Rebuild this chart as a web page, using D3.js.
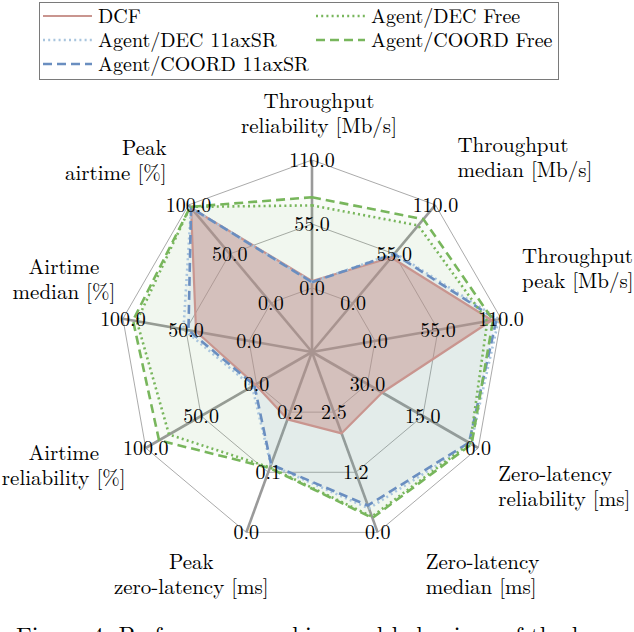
<!DOCTYPE html>
<html><head><meta charset="utf-8">
<script src="https://cdn.jsdelivr.net/npm/d3@7"></script>
<style>
body{margin:0;background:#fff;overflow:hidden}
svg{display:block}
</style>
</head><body>
<svg id="c" width="634" height="632"></svg>
<script>
// ---------- data ----------
const axisTitles = [
  ["Throughput","reliability [Mb/s]"],
  ["Throughput","median [Mb/s]"],
  ["Throughput","peak [Mb/s]"],
  ["Zero-latency","reliability [ms]"],
  ["Zero-latency","median [ms]"],
  ["Peak","zero-latency [ms]"],
  ["Airtime","reliability [%]"],
  ["Airtime","median [%]"],
  ["Peak","airtime [%]"]
];
const axisTicks = [
  [0,55,110],[0,55,110],[0,55,110],
  [30,15,0],[2.5,1.25,0],[0.2,0.1,0],
  [0,50,100],[0,50,100],[0,50,100]
];
const tickLabels = [
  ["0.0","55.0","110.0"],["0.0","55.0","110.0"],["0.0","55.0","110.0"],
  ["30.0","15.0","0.0"],["2.5","1.2","0.0"],["0.2","0.1","0.0"],
  ["0.0","50.0","100.0"],["0.0","50.0","100.0"],["0.0","50.0","100.0"]
];
const seriesNames = ["DCF","Agent/DEC 11axSR","Agent/COORD 11axSR","Agent/DEC Free","Agent/COORD Free"];
const dcfValues       = [6, 51, 102, 26, 2.06, 0.188, 1, 42, 97];
const decSRValues     = [5, 56, 108, 2.0, 0.50, 0.112, 4, 52, 97];
const coordSRValues   = [5, 55, 106, 2.5, 0.56, 0.113, 2, 48, 97];
const decFreeValues   = [71, 87, 98, 2.2, 0.33, 0.108, 79, 89, 98];
const coordFreeValues = [78, 94, 103, 1.8, 0.30, 0.107, 88, 92, 98];
const captionText = "Figure 4: Performance ranking and behaviour of the learned policies";

// ---------- layout ----------
const FONT = '"Latin Modern Roman"';
const W = 634, H = 632, cx = 312, cy = 352, R = 192;
const N = axisTitles.length, step = 2*Math.PI/N;
const svg = d3.select("#c");

const scales = axisTicks.map(t => d3.scaleLinear().domain([t[0], t[2]]).range([R/3, R]));
const pt = (i, r) => [cx + r*Math.sin(i*step), cy - r*Math.cos(i*step)];

const styles = [
  {stroke:"#c9958f", dash:null,     fill:"#c28c86", fo:0.46, w:2.2},
  {stroke:"#a9c5de", dash:"2,3.2",  fill:"#a9c5de", fo:0.05, w:2.6},
  {stroke:"#6a8ec0", dash:"9,5",    fill:"#6a8ec0", fo:0.07, w:2.6},
  {stroke:"#78b65c", dash:"2,3.2",  fill:"#78b65c", fo:0.05, w:2.6},
  {stroke:"#78b65c", dash:"9,5",    fill:"#78b65c", fo:0.05, w:2.6}
];
const allSeries = [dcfValues, decSRValues, coordSRValues, decFreeValues, coordFreeValues];

// grid rings
const gRings = svg.append("g");
[1/3, 2/3, 1].forEach(f => {
  gRings.append("path")
    .attr("d", d3.line().curve(d3.curveLinearClosed)(d3.range(N).map(i => pt(i, R*f))))
    .attr("fill","none").attr("stroke","#a0a0a0").attr("stroke-width",0.9);
});
// spokes
svg.append("g").selectAll("line").data(d3.range(N)).join("line")
  .attr("x1",cx).attr("y1",cy)
  .attr("x2",i=>pt(i,R)[0]).attr("y2",i=>pt(i,R)[1])
  .attr("stroke","#9a9a9a").attr("stroke-width",2.6);

// series
const radial = d3.lineRadial()
  .angle((d,i)=>i*step)
  .radius((d,i)=>scales[i](d))
  .curve(d3.curveLinearClosed);
const gS = svg.append("g").attr("transform",`translate(${cx},${cy})`);
const fillOrder = [4,3,1,2,0];
fillOrder.forEach(k => {
  gS.append("path").attr("d", radial(allSeries[k]))
    .attr("fill", styles[k].fill).attr("fill-opacity", styles[k].fo).attr("stroke","none");
});
[0,1,2,3,4].forEach(k => {
  gS.append("path").attr("d", radial(allSeries[k]))
    .attr("fill","none").attr("stroke", styles[k].stroke)
    .attr("stroke-width", styles[k].w)
    .attr("stroke-dasharray", styles[k].dash)
    .attr("stroke-linejoin","round");
});

// tick labels
const gT = svg.append("g");
axisTicks.forEach((t,i) => {
  t.forEach((v,j) => {
    const p = pt(i, scales[i](v));
    gT.append("text").attr("x",p[0]).attr("y",p[1]).attr("dy","0.35em")
      .style("font-family",FONT)
      .attr("text-anchor","middle").attr("font-size",20).text(tickLabels[i][j]);
  });
});

// axis titles
const titleLayout = [
  {dx:7,  dy:-52, a:"middle"},
  {dx:22, dy:-53, a:"start"},
  {dx:21, dy:-56, a:"start"},
  {dx:20, dy:33,  a:"start"},
  {dx:48, dy:37,  a:"start"},
  {dx:-55,dy:37,  a:"middle"},
  {dx:-82,dy:12,  a:"middle"},
  {dx:-59,dy:-45, a:"middle"},
  {dx:-22,dy:-50, a:"end"}
];
const gL = svg.append("g");
axisTitles.forEach((lines,i) => {
  const p = pt(i,R), L = titleLayout[i];
  const t = gL.append("text").attr("text-anchor",L.a).attr("font-size",21).style("font-family",FONT);
  lines.forEach((s,j) => {
    t.append("tspan").attr("x",p[0]+L.dx).attr("y",p[1]+L.dy+j*25).text(s);
  });
});

// legend
const lg = svg.append("g");
lg.append("rect").attr("x",39.5).attr("y",2.5).attr("width",519).attr("height",77)
  .attr("fill","#fff").attr("stroke","#7a7a7a").attr("stroke-width",1);
const legPos = [[0,0],[0,1],[0,2],[1,0],[1,1]];
const colX = [43, 316], rowY = [16, 40, 64];
legPos.forEach((pos,k) => {
  const x = colX[pos[0]], y = rowY[pos[1]];
  lg.append("line").attr("x1",x).attr("x2",x+49).attr("y1",y).attr("y2",y)
    .attr("stroke",styles[k].stroke).attr("stroke-width",styles[k].w)
    .attr("stroke-dasharray",styles[k].dash);
  lg.append("text").attr("x",x+55).attr("y",y).attr("dy","0.33em")
    .style("font-family",FONT)
    .attr("font-size",20).text(seriesNames[k]);
});

// caption (cut at bottom, as in the reference)
svg.append("text").attr("x",16).attr("y",644).attr("font-size",24).style("font-family",FONT).text(captionText);
</script>
</body></html>
